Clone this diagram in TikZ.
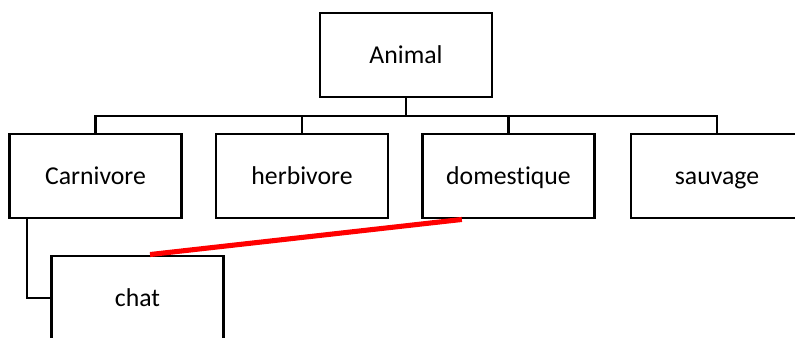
\documentclass[tikz,border=0pt]{standalone}
\usepackage{fontspec}
\setmainfont[RawFeature={-liga;-clig;-dlig}]{Carlito}
\begin{document}
\begin{tikzpicture}[x=0.75pt,y=-0.75pt,
  box/.style={draw=black,line width=1.7pt,fill=white,rectangle,
    minimum width=129pt,minimum height=63.5pt,inner sep=0pt,
    text height=15pt,text depth=2pt,
    font=\fontsize{19.3}{23}\selectfont},
  link/.style={draw=black,line width=1.7pt},
  redlink/.style={draw=red,line width=3.8pt}]
\useasboundingbox (0,0) rectangle (795,338);
\begin{scope}
\clip (0,0) rectangle (795,338);
% tree nodes
\node[box] (animal) at (406,55) {Animal};
\node[box] (carn) at (95.5,176) {Carnivore};
\node[box] (herb) at (302,176) {herbivore};
\node[box] (dom) at (508.5,176) {domestique};
\node[box] (sauv) at (717,176) {sauvage};
\node[box] (chat) at (137.5,298) {chat};
% bus under the root
\coordinate (bus) at (406,116);
\draw[link] (animal.south) -- (bus);
\foreach \n in {carn,herb,dom,sauv}
  \draw[link] (\n.north) |- (bus);
% Carnivore to chat
\coordinate (cdrop) at (26.7,218.5);
\draw[link] (cdrop) |- (chat.west);
% red connector
\draw[redlink] ([xshift=9.4pt]chat.north) -- ([xshift=-35pt]dom.south);
\end{scope}
\end{tikzpicture}
\end{document}
